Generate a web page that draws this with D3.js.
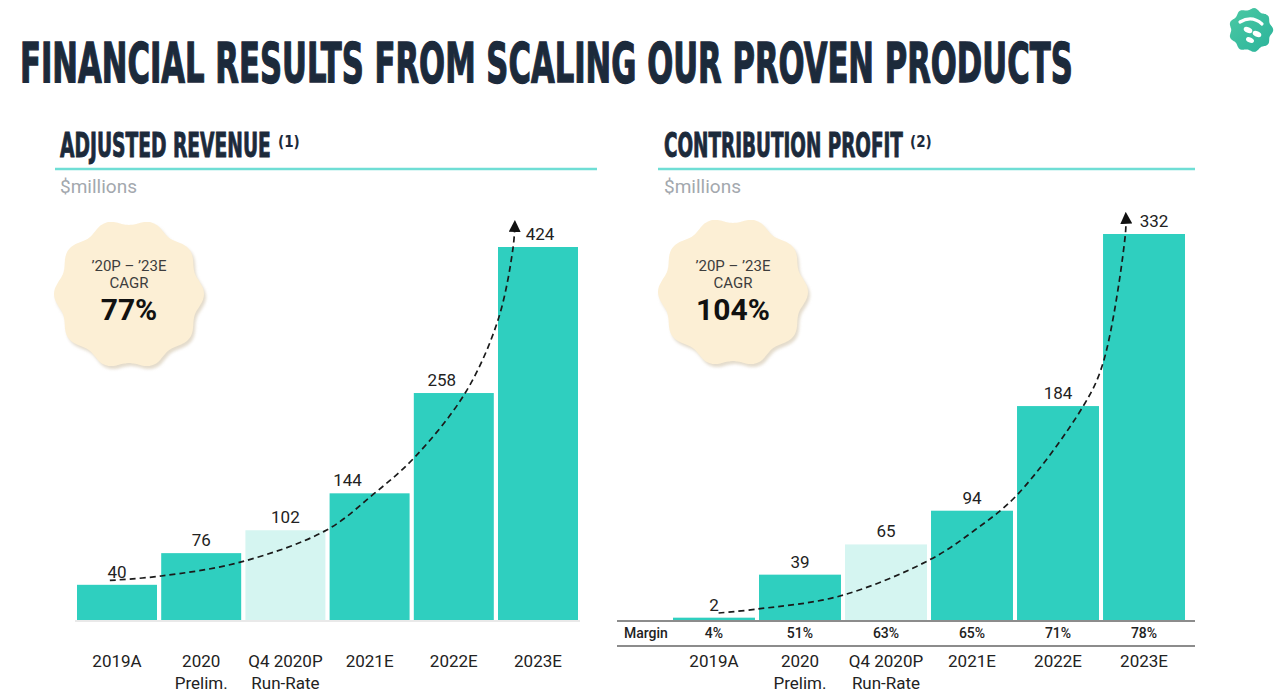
<!DOCTYPE html>
<html>
<head>
<meta charset="utf-8">
<script src="https://cdn.jsdelivr.net/npm/d3@7"></script>
<style>
  html, body { margin: 0; padding: 0; background: #ffffff; }
  svg { display: block; }
</style>
</head>
<body>
<svg id="chart" width="1281" height="698"></svg>
<script>
// ---------------- data ----------------
const pageTitle = "FINANCIAL RESULTS FROM SCALING OUR PROVEN PRODUCTS";
const categories = ["2019A", "2020\nPrelim.", "Q4 2020P\nRun-Rate", "2021E", "2022E", "2023E"];
const barKinds = ["actual", "actual", "runrate", "estimate", "estimate", "estimate"];

const revenueTitle = "ADJUSTED REVENUE";
const revenueNote = "(1)";
const revenueValues = [40, 76, 102, 144, 258, 424];
const revenueCagr = "77%";

const profitTitle = "CONTRIBUTION PROFIT";
const profitNote = "(2)";
const profitValues = [2, 39, 65, 94, 184, 332];
const profitMargins = ["4%", "51%", "63%", "65%", "71%", "78%"];
const profitCagr = "104%";

const unitsLabel = "$millions";
const cagrLine1 = "\u201920P \u2013 \u201923E";
const cagrLine2 = "CAGR";

// dashed growth trend (x in bar steps from first bar, y in $ millions)
const revenueTrendX = [0.39, 1.0, 1.95, 2.96, 3.52, 4.0, 4.61, 5.0, 5.18, 5.2];
const revenueTrendY = [45, 50, 66, 102, 143, 184, 258, 341, 424, 452];
const profitTrendX = [0.53, 0.99, 1.94, 2.98, 3.51, 4.0, 4.77, 5.0, 5.26, 5.265];
const profitTrendY = [6, 9.5, 20.6, 51.6, 77.4, 107.5, 184, 221, 332, 349];

// ---------------- styling ----------------
const TEAL = "#2fcfbf";
const TEAL_LIGHT = "#d5f5f1";
const NAVY = "#1c2a3b";
const BODY_FONT = "Roboto, 'Noto Sans', sans-serif";
const HEAD_FONT = "'DejaVu Sans Condensed', 'Liberation Sans Narrow', 'DejaVu Sans', sans-serif";

const svg = d3.select("#chart");
const defs = svg.append("defs");

defs.append("marker")
  .attr("id", "arrow")
  .attr("viewBox", "0 -5 10 10")
  .attr("refX", 8).attr("refY", 0)
  .attr("markerWidth", 12).attr("markerHeight", 12)
  .attr("markerUnits", "userSpaceOnUse")
  .attr("orient", "auto")
  .append("path")
  .attr("d", "M0,-5L10,0L0,5Z")
  .attr("fill", "#111");

const blur = defs.append("filter").attr("id", "soft").attr("x", "-20%").attr("y", "-20%").attr("width", "140%").attr("height", "140%");
blur.append("feGaussianBlur").attr("stdDeviation", 1.6);

const grad = defs.append("linearGradient").attr("id", "logoGrad").attr("x1", "0").attr("y1", "0").attr("x2", "1").attr("y2", "1");
grad.append("stop").attr("offset", "0").attr("stop-color", "#4bc9a3");
grad.append("stop").attr("offset", "1").attr("stop-color", "#2bb39b");

// condensed heading text: draw at natural width then squeeze horizontally
function squeezedText(parent, str, x, y, size, width, strokeW) {
  const t = parent.append("text")
    .attr("x", 0).attr("y", 0)
    .attr("font-family", HEAD_FONT).attr("font-weight", "bold")
    .attr("font-size", size)
    .attr("fill", NAVY).attr("stroke", NAVY).attr("stroke-width", strokeW)
    .text(str);
  const natural = t.node().getComputedTextLength();
  t.attr("transform", `translate(${x},${y}) scale(${width / natural},1)`);
  return t;
}

// ---------------- page title ----------------
squeezedText(svg, pageTitle, 20, 82, 55, 1053, 1.3);

// logo
function wavyPath(cx, cy, R, A, n) {
  const pts = d3.range(0, 361, 2).map(d => {
    const t = d * Math.PI / 180;
    const r = R + A * Math.cos(n * t);
    return [cx + r * Math.cos(t), cy + r * Math.sin(t)];
  });
  return d3.line().curve(d3.curveCardinalClosed)(pts);
}
const logo = svg.append("g");
logo.append("path").attr("d", wavyPath(1251, 30, 21, 1.2, 9)).attr("fill", "url(#logoGrad)");
logo.append("path").attr("d", "M1240,22 Q1252,15 1262,24").attr("fill", "none").attr("stroke", "#fff").attr("stroke-width", 3.2).attr("stroke-linecap", "round");
logo.append("ellipse").attr("cx", 1248).attr("cy", 30).attr("rx", 4.5).attr("ry", 2.8).attr("transform", "rotate(25 1248 30)").attr("fill", "#fff");
logo.append("ellipse").attr("cx", 1257).attr("cy", 34).attr("rx", 4.5).attr("ry", 2.8).attr("transform", "rotate(25 1257 34)").attr("fill", "#fff");
logo.append("ellipse").attr("cx", 1250).attr("cy", 40).attr("rx", 4.2).attr("ry", 2.6).attr("transform", "rotate(25 1250 40)").attr("fill", "#fff");

// ---------------- panel builder ----------------
function panel(cfg) {
  const g = svg.append("g");

  // header
  squeezedText(g, cfg.title, cfg.titleX, 157, 33, cfg.titleW, 0.9);
  g.append("text")
    .attr("x", cfg.titleX + cfg.titleW + 7).attr("y", 147)
    .attr("font-family", HEAD_FONT).attr("font-weight", "bold")
    .attr("font-size", 15)
    .attr("fill", NAVY)
    .text(cfg.note);

  g.append("line")
    .attr("x1", cfg.ruleX1).attr("x2", cfg.ruleX2)
    .attr("y1", 169).attr("y2", 169)
    .attr("stroke", "#6fded5").attr("stroke-width", 2.5);

  g.append("text")
    .attr("x", cfg.titleX).attr("y", 193)
    .attr("font-family", BODY_FONT).attr("font-size", 19)
    .attr("fill", "#a3a8ae")
    .text(unitsLabel);

  // scales
  const x = d3.scaleBand().domain(categories)
    .range([cfg.barX0, cfg.barX1]).paddingInner(cfg.padInner).paddingOuter(0);
  const y = d3.scaleLinear().domain([0, d3.max(cfg.values)])
    .range([cfg.baseY, cfg.topY]);
  const pos = t => x(categories[0]) + t * x.step();

  // bars
  g.selectAll("rect.bar").data(cfg.values).join("rect")
    .attr("class", "bar")
    .attr("x", (d, i) => x(categories[i]))
    .attr("width", x.bandwidth())
    .attr("y", d => y(d))
    .attr("height", d => y(0) - y(d))
    .attr("fill", (d, i) => barKinds[i] === "runrate" ? TEAL_LIGHT : TEAL);

  // trend curve
  const trend = cfg.trendX.map((t, i) => [pos(t), y(cfg.trendY[i])]);
  g.append("path")
    .attr("d", d3.line().curve(d3.curveCatmullRom.alpha(0.5))(trend))
    .attr("fill", "none")
    .attr("stroke", "#1a1a1a").attr("stroke-width", 1.7)
    .attr("stroke-dasharray", "6,4")
    .attr("marker-end", "url(#arrow)");

  // value labels
  g.selectAll("text.val").data(cfg.values).join("text")
    .attr("class", "val")
    .attr("x", (d, i) => x(categories[i]) + x.bandwidth() / 2 + cfg.labelShift[i])
    .attr("y", d => y(d) - 7)
    .attr("text-anchor", "middle")
    .attr("font-family", BODY_FONT).attr("font-size", 17)
    .attr("fill", "#222")
    .text(d => d);

  // baseline / margin row
  if (cfg.margins) {
    g.append("line").attr("x1", cfg.axisX1).attr("x2", cfg.axisX2)
      .attr("y1", cfg.baseY + 1).attr("y2", cfg.baseY + 1)
      .attr("stroke", "#8c8c8c").attr("stroke-width", 2);
    g.append("line").attr("x1", cfg.axisX1).attr("x2", cfg.axisX2)
      .attr("y1", cfg.baseY + 26).attr("y2", cfg.baseY + 26)
      .attr("stroke", "#8c8c8c").attr("stroke-width", 2);
    g.append("text").attr("x", cfg.axisX1 + 7).attr("y", cfg.baseY + 18)
      .attr("font-family", BODY_FONT).attr("font-size", 14).attr("font-weight", 500)
      .attr("fill", "#222").text("Margin");
    g.selectAll("text.mg").data(cfg.margins).join("text")
      .attr("class", "mg")
      .attr("x", (d, i) => x(categories[i]) + x.bandwidth() / 2)
      .attr("y", cfg.baseY + 18)
      .attr("text-anchor", "middle")
      .attr("font-family", BODY_FONT).attr("font-size", 14).attr("font-weight", 500)
      .attr("fill", "#222").text(d => d);
  } else {
    g.append("line").attr("x1", cfg.axisX1).attr("x2", cfg.axisX2)
      .attr("y1", cfg.baseY + 1).attr("y2", cfg.baseY + 1)
      .attr("stroke", "#e2e2e2").attr("stroke-width", 1.5);
  }

  // category labels via axis
  const axis = g.append("g")
    .attr("transform", `translate(0,${cfg.baseY + 47})`)
    .call(d3.axisBottom(x).tickSize(0).tickPadding(0).tickFormat(() => ""));
  axis.select(".domain").remove();
  axis.selectAll(".tick").each(function (d) {
    const t = d3.select(this).select("text")
      .attr("y", 0).attr("dy", 0)
      .attr("font-family", BODY_FONT).attr("font-size", 17)
      .attr("fill", "#222");
    d.split("\n").forEach((line, k) => {
      t.append("tspan").attr("x", 0).attr("y", k * 22).text(line);
    });
  });

  // CAGR badge
  const b = g.append("g");
  b.append("path").attr("d", wavyPath(cfg.badgeX + 2, cfg.badgeY + 3, 72, 3, 10))
    .attr("fill", "#d8ccb6").attr("opacity", 0.7).attr("filter", "url(#soft)");
  b.append("path").attr("d", wavyPath(cfg.badgeX, cfg.badgeY, 72, 3, 10))
    .attr("fill", "#fcefd5");
  b.append("text").attr("x", cfg.badgeX).attr("y", 271)
    .attr("text-anchor", "middle").attr("font-family", BODY_FONT).attr("font-size", 15)
    .attr("fill", "#3d3d3d").text(cagrLine1);
  b.append("text").attr("x", cfg.badgeX).attr("y", 288)
    .attr("text-anchor", "middle").attr("font-family", BODY_FONT).attr("font-size", 15)
    .attr("fill", "#3d3d3d").text(cagrLine2);
  b.append("text").attr("x", cfg.badgeX).attr("y", 320)
    .attr("text-anchor", "middle").attr("font-family", BODY_FONT).attr("font-size", 30)
    .attr("font-weight", "bold").attr("fill", "#111").text(cfg.cagr);
}

panel({
  title: revenueTitle, note: revenueNote, titleX: 60, titleW: 211,
  ruleX1: 55, ruleX2: 597,
  values: revenueValues, barX0: 77, barX1: 578, padInner: 0.05,
  baseY: 620, topY: 247,
  axisX1: 75, axisX2: 580,
  trendX: revenueTrendX, trendY: revenueTrendY,
  labelShift: [0, 0, 0, -22, -12, 2],
  badgeX: 129, badgeY: 294, cagr: revenueCagr
});

panel({
  title: profitTitle, note: profitNote, titleX: 664, titleW: 239,
  ruleX1: 658, ruleX2: 1195,
  values: profitValues, barX0: 673, barX1: 1185, padInner: 0.047,
  baseY: 620, topY: 234,
  axisX1: 617, axisX2: 1195,
  margins: profitMargins,
  trendX: profitTrendX, trendY: profitTrendY,
  labelShift: [0, 0, 0, 0, 0, 10],
  badgeX: 733, badgeY: 292, cagr: profitCagr
});
</script>
</body>
</html>
